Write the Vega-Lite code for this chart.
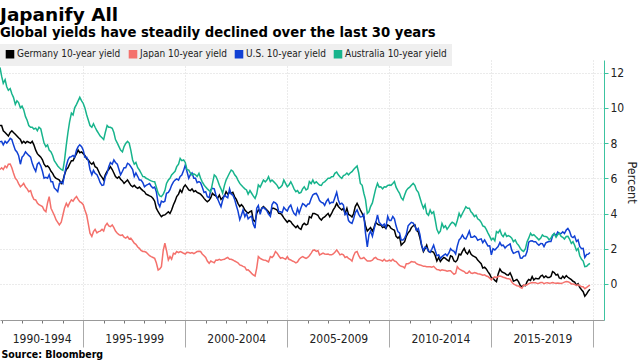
{
"$schema": "https://vega.github.io/schema/vega-lite/v6.json",
"width": 604, "height": 260,
"autosize": {"type": "none"},
"padding": {"left": 0, "top": 60, "right": 36, "bottom": 40},
"background": "white",
"config": {"font": "DejaVu Sans Condensed", "view": {"stroke": null}},
"title": {"text": "Japanify All", "subtitle": "Global yields have steadily declined over the last 30 years", "anchor": "start", "frame": "group", "font": "DejaVu Sans", "subtitleFont": "DejaVu Sans Condensed", "fontSize": 18.5, "fontWeight": "bold", "subtitleFontSize": 14.7, "subtitleFontWeight": "bold", "color": "#000", "subtitleColor": "#000", "offset": 4, "subtitlePadding": 1},
"data": {"values": [
{"t":1990.92,"de":9.0,"jp":6.5,"us":8.08,"au":12.3},
{"t":1991.00,"de":9.0,"jp":6.6,"us":8.1,"au":11.8},
{"t":1991.08,"de":8.7,"jp":6.5,"us":7.9,"au":11.4},
{"t":1991.17,"de":8.6,"jp":6.7,"us":8.1,"au":11.6},
{"t":1991.25,"de":8.5,"jp":6.6,"us":8.0,"au":11.2},
{"t":1991.33,"de":8.4,"jp":6.8,"us":8.1,"au":11.0},
{"t":1991.42,"de":8.6,"jp":6.81,"us":8.27,"au":11.1},
{"t":1991.50,"de":8.7,"jp":6.6,"us":8.2,"au":10.8},
{"t":1991.58,"de":8.6,"jp":6.3,"us":7.9,"au":10.6},
{"t":1991.67,"de":8.5,"jp":6.0,"us":7.6,"au":10.2},
{"t":1991.75,"de":8.4,"jp":5.9,"us":7.5,"au":10.4},
{"t":1991.83,"de":8.3,"jp":5.7,"us":7.3,"au":10.3},
{"t":1991.92,"de":8.2,"jp":5.52,"us":6.8,"au":10.0},
{"t":1992.00,"de":8.0,"jp":5.6,"us":7.2,"au":10.1},
{"t":1992.08,"de":8.1,"jp":5.71,"us":7.3,"au":9.9},
{"t":1992.17,"de":8.0,"jp":5.5,"us":7.5,"au":9.5},
{"t":1992.25,"de":8.1,"jp":5.4,"us":7.4,"au":9.3},
{"t":1992.33,"de":8.05,"jp":5.24,"us":7.3,"au":9.0},
{"t":1992.42,"de":8.0,"jp":5.3,"us":7.2,"au":8.9},
{"t":1992.50,"de":8.1,"jp":5.0,"us":6.85,"au":8.9},
{"t":1992.58,"de":7.9,"jp":4.8,"us":6.6,"au":8.8},
{"t":1992.67,"de":7.6,"jp":4.77,"us":6.4,"au":8.85},
{"t":1992.75,"de":7.4,"jp":4.6,"us":6.8,"au":8.7},
{"t":1992.83,"de":7.3,"jp":4.5,"us":6.9,"au":8.9},
{"t":1992.92,"de":7.2,"jp":4.45,"us":6.7,"au":8.8},
{"t":1993.00,"de":7.05,"jp":4.39,"us":6.4,"au":8.4},
{"t":1993.08,"de":6.8,"jp":4.2,"us":6.0,"au":8.0},
{"t":1993.17,"de":6.66,"jp":4.1,"us":6.05,"au":7.8},
{"t":1993.25,"de":6.7,"jp":4.6,"us":6.0,"au":7.9},
{"t":1993.33,"de":6.6,"jp":4.96,"us":6.2,"au":7.6},
{"t":1993.42,"de":6.4,"jp":4.3,"us":5.8,"au":7.5},
{"t":1993.50,"de":6.28,"jp":4.1,"us":5.8,"au":7.3},
{"t":1993.58,"de":6.1,"jp":3.9,"us":5.45,"au":7.0},
{"t":1993.67,"de":6.0,"jp":3.63,"us":5.35,"au":6.85},
{"t":1993.75,"de":5.95,"jp":3.5,"us":5.24,"au":6.7},
{"t":1993.83,"de":5.9,"jp":3.35,"us":5.7,"au":6.6},
{"t":1993.92,"de":5.7,"jp":3.5,"us":5.8,"au":6.5},
{"t":1994.00,"de":5.85,"jp":3.9,"us":5.7,"au":6.45},
{"t":1994.08,"de":6.2,"jp":4.3,"us":6.2,"au":7.0},
{"t":1994.17,"de":6.5,"jp":4.58,"us":6.7,"au":7.9},
{"t":1994.25,"de":6.6,"jp":4.4,"us":7.04,"au":8.6},
{"t":1994.33,"de":6.8,"jp":4.6,"us":7.2,"au":9.2},
{"t":1994.42,"de":7.0,"jp":4.77,"us":7.23,"au":9.7},
{"t":1994.50,"de":7.0,"jp":4.7,"us":7.3,"au":9.6},
{"t":1994.58,"de":7.2,"jp":4.85,"us":7.2,"au":10.0},
{"t":1994.67,"de":7.4,"jp":4.96,"us":7.6,"au":10.2},
{"t":1994.75,"de":7.6,"jp":4.8,"us":7.8,"au":10.4},
{"t":1994.83,"de":7.45,"jp":4.67,"us":7.9,"au":10.6},
{"t":1994.92,"de":7.5,"jp":4.6,"us":7.8,"au":10.4},
{"t":1995.00,"de":7.4,"jp":4.5,"us":7.6,"au":10.25},
{"t":1995.08,"de":7.3,"jp":4.2,"us":7.2,"au":10.0},
{"t":1995.17,"de":7.1,"jp":3.9,"us":7.2,"au":9.6},
{"t":1995.25,"de":7.04,"jp":3.4,"us":7.0,"au":9.3},
{"t":1995.33,"de":6.9,"jp":2.88,"us":6.5,"au":9.0},
{"t":1995.42,"de":6.8,"jp":2.7,"us":6.2,"au":8.9},
{"t":1995.50,"de":6.9,"jp":2.97,"us":6.45,"au":9.1},
{"t":1995.58,"de":6.66,"jp":3.1,"us":6.28,"au":8.9},
{"t":1995.67,"de":6.6,"jp":2.9,"us":6.2,"au":8.7},
{"t":1995.75,"de":6.4,"jp":2.97,"us":6.0,"au":8.55},
{"t":1995.83,"de":6.19,"jp":3.0,"us":5.75,"au":8.4},
{"t":1995.92,"de":6.05,"jp":3.1,"us":5.6,"au":8.3},
{"t":1996.00,"de":5.9,"jp":3.0,"us":5.62,"au":8.2},
{"t":1996.08,"de":6.2,"jp":3.3,"us":6.1,"au":8.6},
{"t":1996.17,"de":6.4,"jp":3.44,"us":6.3,"au":9.0},
{"t":1996.25,"de":6.5,"jp":3.3,"us":6.66,"au":8.9},
{"t":1996.33,"de":6.66,"jp":3.25,"us":6.9,"au":8.9},
{"t":1996.42,"de":6.5,"jp":3.35,"us":6.8,"au":8.84},
{"t":1996.50,"de":6.3,"jp":3.2,"us":7.04,"au":8.6},
{"t":1996.58,"de":6.1,"jp":3.0,"us":6.9,"au":8.2},
{"t":1996.67,"de":6.0,"jp":2.88,"us":6.8,"au":8.0},
{"t":1996.75,"de":6.09,"jp":2.8,"us":6.5,"au":7.8},
{"t":1996.83,"de":5.95,"jp":2.75,"us":6.2,"au":7.6},
{"t":1996.92,"de":5.85,"jp":2.78,"us":6.4,"au":7.5},
{"t":1997.00,"de":5.71,"jp":2.65,"us":6.6,"au":7.8},
{"t":1997.08,"de":5.8,"jp":2.6,"us":6.6,"au":7.98},
{"t":1997.17,"de":5.9,"jp":2.69,"us":6.85,"au":8.1},
{"t":1997.25,"de":5.75,"jp":2.55,"us":6.8,"au":8.0},
{"t":1997.33,"de":5.6,"jp":2.6,"us":6.66,"au":7.6},
{"t":1997.42,"de":5.52,"jp":2.45,"us":6.5,"au":7.04},
{"t":1997.50,"de":5.6,"jp":2.31,"us":6.1,"au":6.8},
{"t":1997.58,"de":5.5,"jp":2.25,"us":6.3,"au":6.9},
{"t":1997.67,"de":5.43,"jp":2.1,"us":6.1,"au":6.6},
{"t":1997.75,"de":5.5,"jp":2.02,"us":5.9,"au":6.47},
{"t":1997.83,"de":5.4,"jp":1.9,"us":5.9,"au":6.3},
{"t":1997.92,"de":5.3,"jp":1.84,"us":5.75,"au":6.1},
{"t":1998.00,"de":5.24,"jp":1.84,"us":5.52,"au":6.09},
{"t":1998.08,"de":5.1,"jp":1.8,"us":5.6,"au":6.0},
{"t":1998.17,"de":5.05,"jp":1.7,"us":5.65,"au":5.95},
{"t":1998.25,"de":5.0,"jp":1.6,"us":5.7,"au":5.9},
{"t":1998.33,"de":4.96,"jp":1.55,"us":5.55,"au":5.85},
{"t":1998.42,"de":4.85,"jp":1.5,"us":5.45,"au":5.81},
{"t":1998.50,"de":4.7,"jp":1.45,"us":5.5,"au":5.8},
{"t":1998.58,"de":4.3,"jp":1.2,"us":5.24,"au":5.5},
{"t":1998.67,"de":4.1,"jp":0.79,"us":4.58,"au":5.15},
{"t":1998.75,"de":3.95,"jp":0.85,"us":4.39,"au":5.0},
{"t":1998.83,"de":3.82,"jp":0.98,"us":4.7,"au":4.96},
{"t":1998.92,"de":3.9,"jp":1.9,"us":4.65,"au":5.1},
{"t":1999.00,"de":3.92,"jp":2.31,"us":4.7,"au":5.3},
{"t":1999.08,"de":4.0,"jp":1.9,"us":5.15,"au":5.71},
{"t":1999.17,"de":4.1,"jp":1.36,"us":5.2,"au":5.9},
{"t":1999.25,"de":4.0,"jp":1.55,"us":5.35,"au":6.0},
{"t":1999.33,"de":4.2,"jp":1.4,"us":5.6,"au":6.19},
{"t":1999.42,"de":4.5,"jp":1.74,"us":5.8,"au":6.3},
{"t":1999.50,"de":4.7,"jp":1.7,"us":5.9,"au":6.4},
{"t":1999.58,"de":4.96,"jp":1.84,"us":5.97,"au":6.66},
{"t":1999.67,"de":5.1,"jp":1.78,"us":5.9,"au":6.8},
{"t":1999.75,"de":5.34,"jp":1.84,"us":6.1,"au":7.13},
{"t":1999.83,"de":5.2,"jp":1.8,"us":6.19,"au":7.0},
{"t":1999.92,"de":5.5,"jp":1.74,"us":6.45,"au":7.04},
{"t":2000.00,"de":5.62,"jp":1.7,"us":6.75,"au":6.9},
{"t":2000.08,"de":5.5,"jp":1.8,"us":6.4,"au":6.5},
{"t":2000.17,"de":5.34,"jp":1.78,"us":6.0,"au":6.47},
{"t":2000.25,"de":5.3,"jp":1.74,"us":6.2,"au":6.3},
{"t":2000.33,"de":5.4,"jp":1.78,"us":6.3,"au":6.19},
{"t":2000.42,"de":5.24,"jp":1.72,"us":6.0,"au":6.25},
{"t":2000.50,"de":5.3,"jp":1.78,"us":6.0,"au":6.2},
{"t":2000.58,"de":5.2,"jp":1.84,"us":5.75,"au":6.1},
{"t":2000.67,"de":5.15,"jp":1.86,"us":5.81,"au":6.28},
{"t":2000.75,"de":5.1,"jp":1.84,"us":5.75,"au":6.0},
{"t":2000.83,"de":5.0,"jp":1.7,"us":5.5,"au":5.8},
{"t":2000.92,"de":4.86,"jp":1.6,"us":5.2,"au":5.62},
{"t":2001.00,"de":4.75,"jp":1.5,"us":5.24,"au":5.5},
{"t":2001.08,"de":4.67,"jp":1.3,"us":4.95,"au":5.4},
{"t":2001.17,"de":4.75,"jp":1.17,"us":4.9,"au":5.3},
{"t":2001.25,"de":4.9,"jp":1.3,"us":5.35,"au":5.24},
{"t":2001.33,"de":5.15,"jp":1.25,"us":5.43,"au":5.7},
{"t":2001.42,"de":5.05,"jp":1.2,"us":5.4,"au":6.19},
{"t":2001.50,"de":5.0,"jp":1.36,"us":5.05,"au":6.1},
{"t":2001.58,"de":4.85,"jp":1.35,"us":4.85,"au":5.9},
{"t":2001.67,"de":5.05,"jp":1.4,"us":4.6,"au":5.6},
{"t":2001.75,"de":4.8,"jp":1.35,"us":4.39,"au":5.4},
{"t":2001.83,"de":4.9,"jp":1.38,"us":4.75,"au":5.15},
{"t":2001.92,"de":5.0,"jp":1.4,"us":5.05,"au":5.6},
{"t":2002.00,"de":5.24,"jp":1.46,"us":4.96,"au":5.9},
{"t":2002.08,"de":5.1,"jp":1.5,"us":4.9,"au":6.09},
{"t":2002.17,"de":5.2,"jp":1.4,"us":5.4,"au":6.3},
{"t":2002.25,"de":5.15,"jp":1.4,"us":5.1,"au":6.47},
{"t":2002.33,"de":5.2,"jp":1.36,"us":5.05,"au":6.4},
{"t":2002.42,"de":4.95,"jp":1.3,"us":4.8,"au":6.2},
{"t":2002.50,"de":4.8,"jp":1.25,"us":4.45,"au":6.09},
{"t":2002.58,"de":4.58,"jp":1.2,"us":4.15,"au":5.9},
{"t":2002.67,"de":4.4,"jp":1.08,"us":3.65,"au":5.71},
{"t":2002.75,"de":4.5,"jp":1.05,"us":3.9,"au":5.6},
{"t":2002.83,"de":4.4,"jp":1.0,"us":4.2,"au":5.5},
{"t":2002.92,"de":4.2,"jp":0.95,"us":3.82,"au":5.4},
{"t":2003.00,"de":4.1,"jp":0.79,"us":4.0,"au":5.34},
{"t":2003.08,"de":4.01,"jp":0.8,"us":3.7,"au":5.1},
{"t":2003.17,"de":4.1,"jp":0.7,"us":3.8,"au":5.3},
{"t":2003.25,"de":4.15,"jp":0.6,"us":3.85,"au":5.15},
{"t":2003.33,"de":3.63,"jp":0.51,"us":3.4,"au":5.0},
{"t":2003.42,"de":3.54,"jp":0.45,"us":3.16,"au":4.86},
{"t":2003.50,"de":4.0,"jp":0.9,"us":4.3,"au":5.1},
{"t":2003.58,"de":4.2,"jp":1.55,"us":4.45,"au":5.62},
{"t":2003.67,"de":4.1,"jp":1.45,"us":3.95,"au":5.5},
{"t":2003.75,"de":4.3,"jp":1.4,"us":4.3,"au":5.7},
{"t":2003.83,"de":4.39,"jp":1.36,"us":4.35,"au":5.9},
{"t":2003.92,"de":4.3,"jp":1.35,"us":4.25,"au":5.8},
{"t":2004.00,"de":4.2,"jp":1.3,"us":4.15,"au":5.9},
{"t":2004.08,"de":4.1,"jp":1.25,"us":3.97,"au":6.09},
{"t":2004.17,"de":3.95,"jp":1.55,"us":3.84,"au":5.81},
{"t":2004.25,"de":4.3,"jp":1.5,"us":4.5,"au":5.9},
{"t":2004.33,"de":4.3,"jp":1.6,"us":4.65,"au":5.81},
{"t":2004.42,"de":4.25,"jp":1.84,"us":4.6,"au":5.7},
{"t":2004.50,"de":4.2,"jp":1.75,"us":4.5,"au":5.6},
{"t":2004.58,"de":4.01,"jp":1.6,"us":4.1,"au":5.43},
{"t":2004.67,"de":4.0,"jp":1.46,"us":4.1,"au":5.5},
{"t":2004.75,"de":3.9,"jp":1.5,"us":4.05,"au":5.6},
{"t":2004.83,"de":3.75,"jp":1.45,"us":4.35,"au":5.9},
{"t":2004.92,"de":3.62,"jp":1.4,"us":4.22,"au":5.7},
{"t":2005.00,"de":3.5,"jp":1.55,"us":4.14,"au":5.52},
{"t":2005.08,"de":3.6,"jp":1.4,"us":4.36,"au":5.62},
{"t":2005.17,"de":3.54,"jp":1.36,"us":4.48,"au":5.8},
{"t":2005.25,"de":3.4,"jp":1.3,"us":4.2,"au":5.62},
{"t":2005.33,"de":3.3,"jp":1.27,"us":4.0,"au":5.4},
{"t":2005.42,"de":3.2,"jp":1.2,"us":3.9,"au":5.24},
{"t":2005.50,"de":3.3,"jp":1.25,"us":4.28,"au":5.3},
{"t":2005.58,"de":3.16,"jp":1.4,"us":4.02,"au":5.15},
{"t":2005.67,"de":3.1,"jp":1.5,"us":4.33,"au":5.2},
{"t":2005.75,"de":3.35,"jp":1.55,"us":4.56,"au":5.4},
{"t":2005.83,"de":3.44,"jp":1.5,"us":4.5,"au":5.52},
{"t":2005.92,"de":3.35,"jp":1.45,"us":4.39,"au":5.34},
{"t":2006.00,"de":3.4,"jp":1.5,"us":4.53,"au":5.4},
{"t":2006.08,"de":3.82,"jp":1.6,"us":4.55,"au":5.81},
{"t":2006.17,"de":3.75,"jp":1.75,"us":4.85,"au":5.7},
{"t":2006.25,"de":4.0,"jp":1.9,"us":5.05,"au":5.9},
{"t":2006.33,"de":4.0,"jp":1.93,"us":5.12,"au":5.71},
{"t":2006.42,"de":3.95,"jp":1.85,"us":5.14,"au":5.8},
{"t":2006.50,"de":3.9,"jp":1.9,"us":4.98,"au":5.7},
{"t":2006.58,"de":3.73,"jp":1.65,"us":4.73,"au":5.62},
{"t":2006.67,"de":3.63,"jp":1.7,"us":4.63,"au":5.6},
{"t":2006.75,"de":3.75,"jp":1.75,"us":4.6,"au":5.75},
{"t":2006.83,"de":3.8,"jp":1.7,"us":4.46,"au":5.8},
{"t":2006.92,"de":3.92,"jp":1.68,"us":4.7,"au":5.9},
{"t":2007.00,"de":4.0,"jp":1.7,"us":4.82,"au":6.0},
{"t":2007.08,"de":3.82,"jp":1.65,"us":4.56,"au":6.0},
{"t":2007.17,"de":4.0,"jp":1.65,"us":4.64,"au":6.09},
{"t":2007.25,"de":4.2,"jp":1.7,"us":4.63,"au":6.1},
{"t":2007.33,"de":4.35,"jp":1.8,"us":4.89,"au":6.28},
{"t":2007.42,"de":4.58,"jp":1.93,"us":5.2,"au":6.35},
{"t":2007.50,"de":4.4,"jp":1.8,"us":4.77,"au":6.2},
{"t":2007.58,"de":4.3,"jp":1.65,"us":4.53,"au":6.09},
{"t":2007.67,"de":4.2,"jp":1.7,"us":4.58,"au":6.0},
{"t":2007.75,"de":4.3,"jp":1.65,"us":4.48,"au":6.15},
{"t":2007.83,"de":4.0,"jp":1.5,"us":3.94,"au":6.19},
{"t":2007.92,"de":4.3,"jp":1.55,"us":4.03,"au":6.3},
{"t":2008.00,"de":3.95,"jp":1.45,"us":3.6,"au":6.2},
{"t":2008.08,"de":3.9,"jp":1.4,"us":3.5,"au":6.3},
{"t":2008.17,"de":3.8,"jp":1.3,"us":3.44,"au":6.38},
{"t":2008.25,"de":4.0,"jp":1.6,"us":3.7,"au":6.5},
{"t":2008.33,"de":4.39,"jp":1.8,"us":4.05,"au":6.6},
{"t":2008.42,"de":4.58,"jp":1.84,"us":4.2,"au":6.7},
{"t":2008.50,"de":4.4,"jp":1.6,"us":3.95,"au":6.3},
{"t":2008.58,"de":4.2,"jp":1.45,"us":3.8,"au":5.71},
{"t":2008.67,"de":4.0,"jp":1.45,"us":3.82,"au":5.6},
{"t":2008.75,"de":3.8,"jp":1.5,"us":3.95,"au":5.15},
{"t":2008.83,"de":3.3,"jp":1.4,"us":2.9,"au":4.8},
{"t":2008.92,"de":3.0,"jp":1.3,"us":2.1,"au":4.01},
{"t":2009.00,"de":3.1,"jp":1.3,"us":2.8,"au":4.1},
{"t":2009.08,"de":3.2,"jp":1.3,"us":3.0,"au":4.39},
{"t":2009.17,"de":3.0,"jp":1.35,"us":2.7,"au":4.6},
{"t":2009.25,"de":3.2,"jp":1.46,"us":3.1,"au":5.0},
{"t":2009.33,"de":3.5,"jp":1.5,"us":3.45,"au":5.4},
{"t":2009.42,"de":3.4,"jp":1.4,"us":3.92,"au":5.71},
{"t":2009.50,"de":3.35,"jp":1.38,"us":3.5,"au":5.5},
{"t":2009.58,"de":3.35,"jp":1.35,"us":3.4,"au":5.52},
{"t":2009.67,"de":3.2,"jp":1.3,"us":3.3,"au":5.4},
{"t":2009.75,"de":3.25,"jp":1.4,"us":3.4,"au":5.52},
{"t":2009.83,"de":3.15,"jp":1.3,"us":3.2,"au":5.5},
{"t":2009.92,"de":3.35,"jp":1.3,"us":3.84,"au":5.6},
{"t":2010.00,"de":3.3,"jp":1.35,"us":3.6,"au":5.62},
{"t":2010.08,"de":3.16,"jp":1.3,"us":3.6,"au":5.6},
{"t":2010.17,"de":3.1,"jp":1.4,"us":3.83,"au":5.7},
{"t":2010.25,"de":3.05,"jp":1.3,"us":3.7,"au":5.81},
{"t":2010.33,"de":2.7,"jp":1.27,"us":3.3,"au":5.5},
{"t":2010.42,"de":2.6,"jp":1.15,"us":2.97,"au":5.3},
{"t":2010.50,"de":2.7,"jp":1.05,"us":2.9,"au":5.15},
{"t":2010.58,"de":2.2,"jp":1.0,"us":2.5,"au":4.9},
{"t":2010.67,"de":2.31,"jp":0.98,"us":2.5,"au":4.77},
{"t":2010.75,"de":2.4,"jp":0.9,"us":2.6,"au":5.05},
{"t":2010.83,"de":2.7,"jp":1.15,"us":2.8,"au":5.3},
{"t":2010.92,"de":2.9,"jp":1.15,"us":3.3,"au":5.43},
{"t":2011.00,"de":3.0,"jp":1.2,"us":3.4,"au":5.5},
{"t":2011.08,"de":3.2,"jp":1.27,"us":3.5,"au":5.6},
{"t":2011.17,"de":3.3,"jp":1.25,"us":3.45,"au":5.71},
{"t":2011.25,"de":3.35,"jp":1.25,"us":3.3,"au":5.6},
{"t":2011.33,"de":3.05,"jp":1.15,"us":3.05,"au":5.34},
{"t":2011.42,"de":2.95,"jp":1.1,"us":3.15,"au":5.2},
{"t":2011.50,"de":2.6,"jp":1.08,"us":2.8,"au":4.9},
{"t":2011.58,"de":2.2,"jp":1.05,"us":2.2,"au":4.58},
{"t":2011.67,"de":1.84,"jp":1.0,"us":1.9,"au":4.3},
{"t":2011.75,"de":2.0,"jp":1.0,"us":2.1,"au":4.5},
{"t":2011.83,"de":2.2,"jp":0.98,"us":2.05,"au":4.01},
{"t":2011.92,"de":1.84,"jp":0.98,"us":1.88,"au":3.9},
{"t":2012.00,"de":1.8,"jp":0.97,"us":1.8,"au":4.2},
{"t":2012.08,"de":1.85,"jp":0.95,"us":1.97,"au":4.0},
{"t":2012.17,"de":1.8,"jp":1.0,"us":2.2,"au":4.1},
{"t":2012.25,"de":1.6,"jp":0.9,"us":1.9,"au":3.63},
{"t":2012.33,"de":1.3,"jp":0.82,"us":1.6,"au":3.1},
{"t":2012.42,"de":1.5,"jp":0.8,"us":1.65,"au":2.88},
{"t":2012.50,"de":1.27,"jp":0.75,"us":1.45,"au":3.0},
{"t":2012.58,"de":1.4,"jp":0.8,"us":1.55,"au":3.44},
{"t":2012.67,"de":1.5,"jp":0.78,"us":1.63,"au":3.2},
{"t":2012.75,"de":1.45,"jp":0.76,"us":1.7,"au":3.3},
{"t":2012.83,"de":1.36,"jp":0.72,"us":1.6,"au":3.1},
{"t":2012.92,"de":1.3,"jp":0.75,"us":1.76,"au":3.25},
{"t":2013.00,"de":1.6,"jp":0.75,"us":2.0,"au":3.4},
{"t":2013.08,"de":1.55,"jp":0.65,"us":1.9,"au":3.5},
{"t":2013.17,"de":1.3,"jp":0.55,"us":1.85,"au":3.44},
{"t":2013.25,"de":1.25,"jp":0.6,"us":1.7,"au":3.3},
{"t":2013.33,"de":1.36,"jp":0.98,"us":2.15,"au":3.6},
{"t":2013.42,"de":1.7,"jp":0.85,"us":2.5,"au":4.01},
{"t":2013.50,"de":1.65,"jp":0.8,"us":2.6,"au":3.8},
{"t":2013.58,"de":1.85,"jp":0.75,"us":2.78,"au":4.0},
{"t":2013.67,"de":2.02,"jp":0.7,"us":2.6,"au":4.2},
{"t":2013.75,"de":1.8,"jp":0.6,"us":2.55,"au":4.39},
{"t":2013.83,"de":1.7,"jp":0.6,"us":2.75,"au":4.3},
{"t":2013.92,"de":1.9,"jp":0.72,"us":3.0,"au":4.3},
{"t":2014.00,"de":1.7,"jp":0.62,"us":2.65,"au":4.1},
{"t":2014.08,"de":1.6,"jp":0.6,"us":2.65,"au":4.0},
{"t":2014.17,"de":1.55,"jp":0.64,"us":2.72,"au":3.82},
{"t":2014.25,"de":1.5,"jp":0.62,"us":2.65,"au":3.9},
{"t":2014.33,"de":1.35,"jp":0.58,"us":2.48,"au":3.7},
{"t":2014.42,"de":1.25,"jp":0.56,"us":2.53,"au":3.63},
{"t":2014.50,"de":1.15,"jp":0.53,"us":2.56,"au":3.5},
{"t":2014.58,"de":0.9,"jp":0.5,"us":2.34,"au":3.3},
{"t":2014.67,"de":0.95,"jp":0.52,"us":2.5,"au":3.25},
{"t":2014.75,"de":0.85,"jp":0.45,"us":2.33,"au":3.1},
{"t":2014.83,"de":0.7,"jp":0.42,"us":2.16,"au":2.9},
{"t":2014.92,"de":0.55,"jp":0.33,"us":2.17,"au":2.7},
{"t":2015.00,"de":0.35,"jp":0.23,"us":1.65,"au":2.5},
{"t":2015.08,"de":0.33,"jp":0.35,"us":2.0,"au":2.6},
{"t":2015.17,"de":0.2,"jp":0.4,"us":1.93,"au":2.45},
{"t":2015.25,"de":0.13,"jp":0.35,"us":2.03,"au":2.97},
{"t":2015.33,"de":0.55,"jp":0.42,"us":2.12,"au":2.9},
{"t":2015.42,"de":0.85,"jp":0.45,"us":2.35,"au":3.06},
{"t":2015.50,"de":0.7,"jp":0.42,"us":2.18,"au":2.8},
{"t":2015.58,"de":0.65,"jp":0.38,"us":2.2,"au":2.69},
{"t":2015.67,"de":0.6,"jp":0.35,"us":2.04,"au":2.88},
{"t":2015.75,"de":0.52,"jp":0.31,"us":2.14,"au":2.7},
{"t":2015.83,"de":0.5,"jp":0.3,"us":2.21,"au":2.75},
{"t":2015.92,"de":0.63,"jp":0.27,"us":2.27,"au":2.69},
{"t":2016.00,"de":0.42,"jp":0.1,"us":1.92,"au":2.6},
{"t":2016.08,"de":0.15,"jp":0.0,"us":1.74,"au":2.4},
{"t":2016.17,"de":0.2,"jp":-0.05,"us":1.78,"au":2.5},
{"t":2016.25,"de":0.25,"jp":-0.1,"us":1.83,"au":2.3},
{"t":2016.33,"de":0.13,"jp":-0.12,"us":1.85,"au":2.2},
{"t":2016.42,"de":-0.1,"jp":-0.2,"us":1.47,"au":2.02},
{"t":2016.50,"de":-0.15,"jp":-0.25,"us":1.46,"au":1.9},
{"t":2016.58,"de":-0.08,"jp":-0.07,"us":1.58,"au":1.84},
{"t":2016.67,"de":-0.1,"jp":-0.08,"us":1.6,"au":2.0},
{"t":2016.75,"de":0.13,"jp":-0.05,"us":1.84,"au":2.4},
{"t":2016.83,"de":0.25,"jp":0.02,"us":2.37,"au":2.6},
{"t":2016.92,"de":0.2,"jp":0.05,"us":2.44,"au":2.88},
{"t":2017.00,"de":0.42,"jp":0.08,"us":2.45,"au":2.75},
{"t":2017.08,"de":0.22,"jp":0.06,"us":2.39,"au":2.8},
{"t":2017.17,"de":0.32,"jp":0.07,"us":2.4,"au":2.69},
{"t":2017.25,"de":0.3,"jp":0.02,"us":2.28,"au":2.6},
{"t":2017.33,"de":0.3,"jp":0.04,"us":2.2,"au":2.5},
{"t":2017.42,"de":0.45,"jp":0.08,"us":2.3,"au":2.6},
{"t":2017.50,"de":0.5,"jp":0.08,"us":2.29,"au":2.78},
{"t":2017.58,"de":0.36,"jp":0.01,"us":2.12,"au":2.7},
{"t":2017.67,"de":0.45,"jp":0.06,"us":2.33,"au":2.69},
{"t":2017.75,"de":0.36,"jp":0.07,"us":2.38,"au":2.65},
{"t":2017.83,"de":0.36,"jp":0.04,"us":2.41,"au":2.5},
{"t":2017.92,"de":0.42,"jp":0.05,"us":2.41,"au":2.6},
{"t":2018.00,"de":0.7,"jp":0.08,"us":2.72,"au":2.78},
{"t":2018.08,"de":0.65,"jp":0.05,"us":2.86,"au":2.85},
{"t":2018.17,"de":0.5,"jp":0.04,"us":2.74,"au":2.65},
{"t":2018.25,"de":0.55,"jp":0.05,"us":2.95,"au":2.8},
{"t":2018.33,"de":0.34,"jp":0.04,"us":2.86,"au":2.88},
{"t":2018.42,"de":0.3,"jp":0.03,"us":2.86,"au":2.7},
{"t":2018.50,"de":0.44,"jp":0.06,"us":2.96,"au":2.65},
{"t":2018.58,"de":0.33,"jp":0.1,"us":2.86,"au":2.55},
{"t":2018.67,"de":0.47,"jp":0.13,"us":3.06,"au":2.69},
{"t":2018.75,"de":0.38,"jp":0.12,"us":3.15,"au":2.7},
{"t":2018.83,"de":0.31,"jp":0.09,"us":3.0,"au":2.55},
{"t":2018.92,"de":0.24,"jp":0.0,"us":2.69,"au":2.3},
{"t":2019.00,"de":0.15,"jp":0.0,"us":2.63,"au":2.4},
{"t":2019.08,"de":0.1,"jp":-0.03,"us":2.72,"au":2.2},
{"t":2019.17,"de":-0.07,"jp":-0.09,"us":2.41,"au":1.9},
{"t":2019.25,"de":0.01,"jp":-0.05,"us":2.5,"au":2.02},
{"t":2019.33,"de":-0.2,"jp":-0.1,"us":2.13,"au":1.6},
{"t":2019.42,"de":-0.33,"jp":-0.16,"us":2.0,"au":1.4},
{"t":2019.50,"de":-0.44,"jp":-0.16,"us":2.02,"au":1.3},
{"t":2019.58,"de":-0.7,"jp":-0.27,"us":1.5,"au":0.98},
{"t":2019.67,"de":-0.57,"jp":-0.2,"us":1.67,"au":1.0},
{"t":2019.75,"de":-0.41,"jp":-0.13,"us":1.69,"au":1.1},
{"t":2019.83,"de":-0.3,"jp":-0.07,"us":1.78,"au":1.17}
]},
"transform": [{"fold": ["de", "jp", "us", "au"], "as": ["series", "yield"]}],
"mark": {"type": "line", "strokeWidth": 1.5, "clip": true},
"encoding": {
  "x": {"field": "t", "type": "quantitative",
    "scale": {"domain": [1990.92, 2020.52], "nice": false, "zero": false},
    "axis": {
      "values": [1991,1992,1993,1994,1995,1996,1997,1998,1999,2000,2001,2002,2003,2004,2005,2006,2007,2008,2009,2010,2011,2012,2013,2014,2015,2016,2017,2018,2019,2020,1992.96,1997.5,2002.5,2007.5,2012.5,2017.5],
      "labelExpr": "datum.value % 1 == 0 ? '' : (floor(datum.value / 5) * 5) + '-' + (floor(datum.value / 5) * 5 + 4)",
      "labelOverlap": false, "labelFlush": false, "labelBound": false,
      "labelFontSize": 12, "labelColor": "#222", "labelPadding": -14,
      "tickSize": 27,
      "tickDash": {"condition": {"test": "datum.value % 5 == 0", "value": [30, 2]}, "value": [3, 60]},
      "tickOpacity": {"condition": {"test": "datum.value % 1 != 0", "value": 0}, "value": 1},
      "tickColor": {"condition": {"test": "datum.value % 5 == 0", "value": "#aaaaaa"}, "value": "#777777"},
      "grid": true, "gridColor": "#d6d6d6", "gridDash": [1, 2],
      "gridOpacity": {"condition": {"test": "datum.value % 5 == 0", "value": 1}, "value": 0},
      "domainColor": "#999999",
      "title": "Source: Bloomberg", "titleAnchor": "start", "titleAlign": "left", "titleX": 1, "titleY": 37, "titleBaseline": "alphabetic", "titleFontSize": 10.5, "titleFontWeight": "bold", "titleColor": "#000"
    }},
  "y": {"field": "yield", "type": "quantitative",
    "scale": {"domain": [-2.05, 12.72], "nice": false, "zero": false},
    "axis": {"orient": "right", "values": [0, 2, 4, 6, 8, 10, 12], "title": "Percent", "titleFontSize": 12.5, "titleFontWeight": "normal", "titleColor": "#222", "titleAngle": 90, "titlePadding": 1, "titleY": 122,
      "domainColor": "#3cc3a0", "tickColor": "#3cc3a0", "tickSize": 4, "labelFontSize": 12, "labelColor": "#222", "labelPadding": 2,
      "grid": true, "gridColor": "#d6d6d6", "gridDash": [1, 2]}},
  "color": {"field": "series", "type": "nominal",
    "scale": {"domain": ["de", "jp", "us", "au"], "range": ["#000000", "#f4716c", "#1040d4", "#17b48c"]},
    "legend": {"orient": "none", "legendX": 0, "legendY": -16, "direction": "horizontal", "title": null,
      "symbolType": "square", "symbolSize": 50, "labelFontSize": 10, "labelColor": "#222", "fillColor": "#efefef", "padding": 5, "columnPadding": 5, "labelOffset": 2,
      "labelExpr": "{'de': 'Germany 10-year yield', 'jp': 'Japan 10-year yield', 'us': 'U.S. 10-year yield', 'au': 'Australia 10-year yield'}[datum.label]",
      "encode": {"symbols": {"update": {"fill": {"scale": "color", "field": "value"}, "stroke": {"value": "transparent"}}}}}}
}
}
